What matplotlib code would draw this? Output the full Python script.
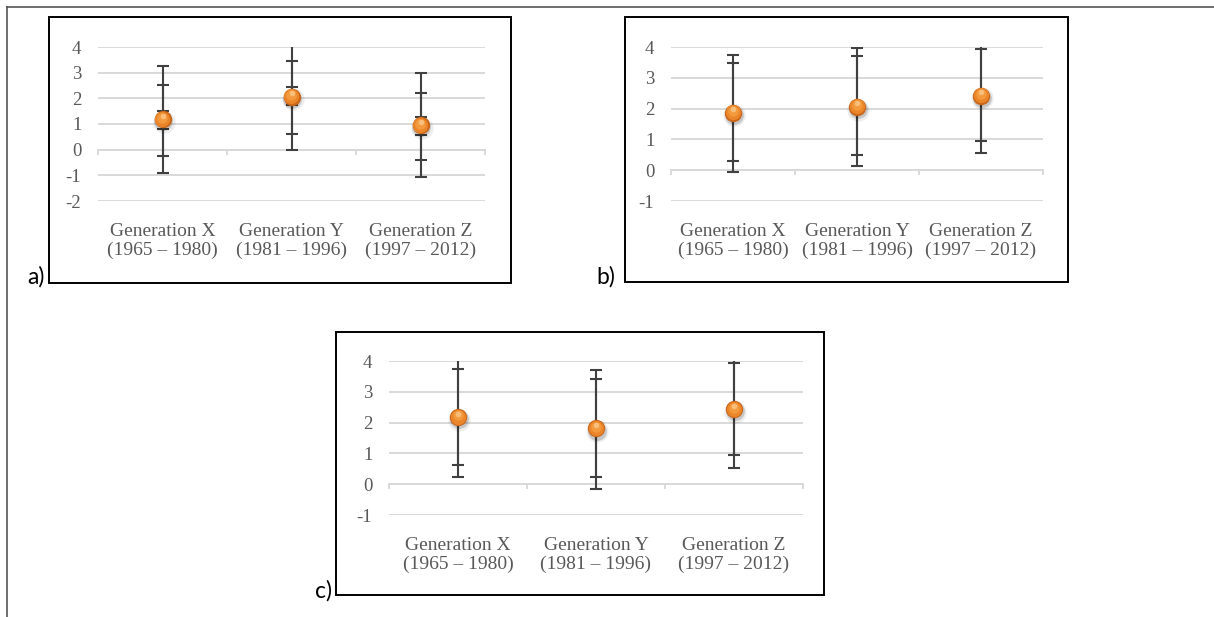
import numpy as np
import matplotlib.pyplot as plt
import matplotlib.transforms as mtransforms
from matplotlib.patches import Rectangle
from matplotlib.lines import Line2D

W, H = 1214, 617

categories = ["Generation X\n(1965 – 1980)",
              "Generation Y\n(1981 – 1996)",
              "Generation Z\n(1997 – 2012)"]

# panel a
mean_a = [1.18, 2.07, 0.95]
inner_lo_a = [0.82, 1.73, 0.57]
inner_hi_a = [1.52, 2.43, 1.29]
mid_lo_a = [-0.25, 0.62, -0.41]
mid_hi_a = [2.52, 3.47, 2.22]
out_lo_a = [-0.90, 0.00, -1.05]
out_hi_a = [3.27, 4.14, 2.99]
yticks_a = [-2, -1, 0, 1, 2, 3, 4]

# panel b
mean_b = [1.87, 2.06, 2.42]
inner_lo_b = [1.75, 1.94, 2.30]
inner_hi_b = [1.99, 2.18, 2.54]
mid_lo_b = [0.31, 0.49, 0.96]
mid_hi_b = [3.47, 3.71, 3.94]
out_lo_b = [-0.06, 0.13, 0.57]
out_hi_b = [3.74, 3.98, 4.30]
yticks_b = [-1, 0, 1, 2, 3, 4]

# panel c
mean_c = [2.18, 1.81, 2.43]
inner_lo_c = [2.06, 1.69, 2.31]
inner_hi_c = [2.30, 1.93, 2.55]
mid_lo_c = [0.62, 0.24, 0.94]
mid_hi_c = [3.73, 3.42, 3.95]
out_lo_c = [0.22, -0.16, 0.54]
out_hi_c = [4.14, 3.70, 4.32]
yticks_c = [-1, 0, 1, 2, 3, 4]

gray_txt = "#595959"
grid_col = "#D9D9D9"
bar_col = "#404040"
serif = "Liberation Serif"

fig = plt.figure(figsize=(W / 100, H / 100), dpi=100)


def px_axes(x0, y0, x1, y1):
    return fig.add_axes([x0 / W, 1 - y1 / H, (x1 - x0) / W, (y1 - y0) / H])


def panel(ax, means, bounds, yticks):
    x = np.arange(1, len(categories) + 1)
    ax.set_xlim(0.5, 3.5)
    ax.set_ylim(yticks[0], yticks[-1])
    ax.set_facecolor("none")
    for s in ["top", "right", "left"]:
        ax.spines[s].set_visible(False)
    ax.spines["bottom"].set_position(("data", 0))
    ax.spines["bottom"].set_color(grid_col)
    ax.spines["bottom"].set_linewidth(1.4)
    ax.set_xticks([0.5, 1.5, 2.5, 3.5])
    ax.set_xticklabels([])
    ax.tick_params(axis="x", direction="out", length=3.8, width=1.4, color=grid_col)
    ax.set_yticks(yticks)
    ax.set_yticklabels([str(t) for t in yticks], fontfamily=serif, fontsize=13.5, color=gray_txt)
    ax.tick_params(axis="y", length=0, pad=12)
    ax.grid(axis="y", color=grid_col, lw=1.4)
    ax.set_axisbelow(True)

    for lo, hi in bounds:
        m = np.array(means)
        err = [m - np.array(lo), np.array(hi) - m]
        ax.errorbar(x, m, yerr=err, fmt="none", ecolor=bar_col, elinewidth=1.5,
                    capsize=4.3, capthick=1.5, zorder=3)

    def off(dx, dy):
        return ax.transData + mtransforms.ScaledTranslation(dx / 72, dy / 72, fig.dpi_scale_trans)

    # shadow + sphere
    ax.plot(x, means, "o", ms=16, color="k", alpha=0.07, mew=0, transform=off(0.8, -2.0), zorder=4, clip_on=False)
    ax.plot(x, means, "o", ms=13.5, color="k", alpha=0.16, mew=0, transform=off(0.6, -1.5), zorder=4, clip_on=False)
    ax.plot(x, means, "o", ms=12.5, color="#C9661A", mew=0, zorder=5, clip_on=False)
    ax.plot(x, means, "o", ms=11, color="#EA8529", mew=0, transform=off(-0.2, 0.4), zorder=5, clip_on=False)
    ax.plot(x, means, "o", ms=7.5, color="#F39A3E", mew=0, transform=off(-0.2, 1.2), zorder=5, clip_on=False)
    ax.plot(x, means, "o", ms=4, color="#F9BF7A", mew=0, transform=off(0, 2.4), zorder=5, clip_on=False)

    for i, lab in enumerate(categories):
        ax.annotate(lab, xy=(x[i], 0), xycoords=("data", "axes fraction"),
                    xytext=(0, -40), textcoords="offset pixels", ha="center", va="center",
                    fontfamily=serif, fontsize=14, color=gray_txt, linespacing=1.2)


ax_a = px_axes(98, 47, 485, 201)
panel(ax_a, mean_a, [(inner_lo_a, inner_hi_a), (mid_lo_a, mid_hi_a), (out_lo_a, out_hi_a)], yticks_a)
ax_b = px_axes(671, 47, 1043, 201)
panel(ax_b, mean_b, [(inner_lo_b, inner_hi_b), (mid_lo_b, mid_hi_b), (out_lo_b, out_hi_b)], yticks_b)
ax_c = px_axes(389, 361, 803, 515)
panel(ax_c, mean_c, [(inner_lo_c, inner_hi_c), (mid_lo_c, mid_hi_c), (out_lo_c, out_hi_c)], yticks_c)

# boxes around the charts
for (x0, y0, x1, y1) in [(49, 17, 511, 283), (625, 17, 1068, 282), (336, 332, 824, 595)]:
    fig.add_artist(Rectangle((x0 / W, 1 - y1 / H), (x1 - x0) / W, (y1 - y0) / H,
                             transform=fig.transFigure, fill=False, ec="black", lw=1.4))

# page border (top and left)
fig.add_artist(Line2D([7 / W, 1], [1 - 7 / H, 1 - 7 / H], transform=fig.transFigure, color="#555555", lw=1.2))
fig.add_artist(Line2D([7 / W, 7 / W], [0, 1 - 7 / H], transform=fig.transFigure, color="#555555", lw=1.2))

for lab, x, y in [("a)", 45, 277), ("b)", 615, 277), ("c)", 332, 591)]:
    fig.text(x / W, 1 - y / H, lab, ha="right", va="center", fontsize=16.5, family="Lato", color="black")

plt.savefig("out.png", dpi=100)
